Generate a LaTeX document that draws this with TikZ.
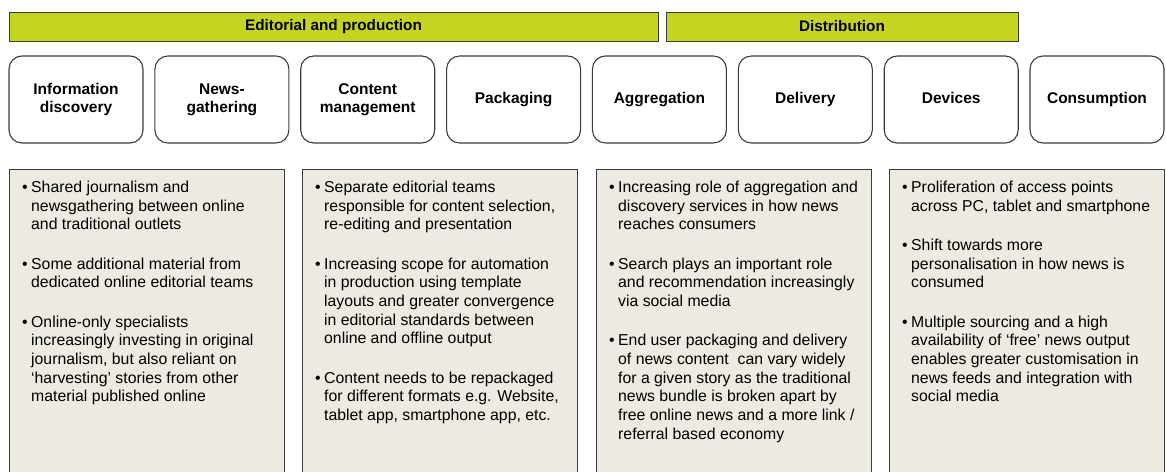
\documentclass[tikz,border=0pt]{standalone}
\usepackage{fontspec}
\setmainfont{Liberation Sans}
\usepackage{tikz}
\definecolor{barlime}{HTML}{C5D321}
\definecolor{notefill}{HTML}{ECEAE1}
\definecolor{edgegray}{HTML}{3C3C3C}
\newcommand{\bul}{\makebox[9pt][l]{\textbullet}}

\begin{document}
\begin{tikzpicture}[x=1pt, y=-1pt,
    bar/.style={draw=edgegray, fill=barlime, line width=1pt, inner sep=0pt,
      minimum height=29pt, font=\fontsize{15.3}{18}\selectfont\bfseries},
    stage/.style={draw=edgegray, rounded corners=13pt, line width=1.1pt, inner sep=0pt,
      minimum width=134pt, minimum height=87pt, align=center,
      font=\fontsize{15.5}{18.3}\selectfont\bfseries},
    notebox/.style={draw=edgegray, fill=notefill, line width=1pt, inner sep=0pt,
      anchor=north west, minimum width=275pt, minimum height=310pt},
    notes/.style={anchor=base west, inner sep=0pt,
      font=\fontsize{15.8}{18.67}\selectfont}]
  \useasboundingbox (0,0) rectangle (1166,471);

  % value chain headers
  \node[bar, minimum width=649pt] (editorial) at (333.5,26.5) {Editorial and production};
  \node[bar, minimum width=352pt] (distribution) at (842,26.5) {Distribution};

  % stages
  \node[stage] (discovery)   at (76,99.5)     {Information\\discovery};
  \node[stage] (gathering)   at (221.9,99.5)  {News-\\gathering};
  \node[stage] (management)  at (367.7,99.5)  {Content\\management};
  \node[stage] (packaging)   at (513.6,99.5)  {Packaging};
  \node[stage] (aggregation) at (659.4,99.5)  {Aggregation};
  \node[stage] (delivery)    at (805.3,99.5)  {Delivery};
  \node[stage] (devices)     at (951.2,99.5)  {Devices\vphantom{y}};
  \node[stage] (consumption) at (1097,99.5)   {Consumption};

  % notes, running off the bottom edge
  \node[notebox] (boxA) at (9,169) {};
  \node[notebox] (boxB) at (302,169) {};
  \node[notebox] (boxC) at (596,169) {};
  \node[notebox] (boxD) at (889,169) {};

  \node[notes] (notesA) at (22,192.5) {\begin{tabular}[t]{@{}l@{}l@{}}
    \bul & Shared journalism and\\
         & newsgathering between online\\
         & and traditional outlets\\[20.7pt]
    \bul & Some additional material from\\
         & dedicated online editorial teams\\[20.7pt]
    \bul & Online-only specialists\\
         & increasingly investing in original\\
         & journalism, but also reliant on\\
         & ‘harvesting’ stories from other\\
         & material published online
  \end{tabular}};
  \node[notes] (notesB) at (315,192.5) {\begin{tabular}[t]{@{}l@{}l@{}}
    \bul & Separate editorial teams\\
         & responsible for content selection,\\
         & re-editing and presentation\\[20.7pt]
    \bul & Increasing scope for automation\\
         & in production using template\\
         & layouts and greater convergence\\
         & in editorial standards between\\
         & online and offline output\\[20.7pt]
    \bul & Content needs to be repackaged\\
         & for different formats e.g. Website,\\
         & tablet app, smartphone app, etc.
  \end{tabular}};
  \node[notes] (notesC) at (609,192.5) {\begin{tabular}[t]{@{}l@{}l@{}}
    \bul & Increasing role of aggregation and\\
         & discovery services in how news\\
         & reaches consumers\\[20.7pt]
    \bul & Search plays an important role\\
         & and recommendation increasingly\\
         & via social media\\[20.7pt]
    \bul & End user packaging and delivery\\
         & of news content\ \ can vary widely\\
         & for a given story as the traditional\\
         & news bundle is broken apart by\\
         & free online news and a more link /\\
         & referral based economy
  \end{tabular}};
  \node[notes] (notesD) at (902,192.5) {\begin{tabular}[t]{@{}l@{}l@{}}
    \bul & Proliferation of access points\\
         & across PC, tablet and smartphone\\[20.7pt]
    \bul & Shift towards more\\
         & personalisation in how news is\\
         & consumed\\[20.7pt]
    \bul & Multiple sourcing and a high\\
         & availability of ‘free’ news output\\
         & enables greater customisation in\\
         & news feeds and integration with\\
         & social media
  \end{tabular}};
\end{tikzpicture}
\end{document}
